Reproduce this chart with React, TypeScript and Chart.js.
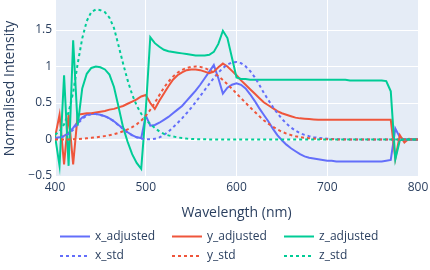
import React, { useEffect, useRef } from "react";
import { Chart, registerables } from "chart.js";

Chart.register(...registerables);

const wavelengths = [
  400, 405, 410, 415, 420, 425, 430, 435, 440, 445,
  450, 455, 460, 465, 470, 475, 480, 485, 490, 495,
  500, 505, 510, 515, 520, 525, 530, 535, 540, 545,
  550, 555, 560, 565, 570, 575, 580, 585, 590, 595,
  600, 605, 610, 615, 620, 625, 630, 635, 640, 645,
  650, 655, 660, 665, 670, 675, 680, 685, 690, 695,
  700, 705, 710, 715, 720, 725, 730, 735, 740, 745,
  750, 755, 760, 765, 770, 775, 780, 785, 790, 795,
  800,
];

const xAdjusted = [
  0.02, 0.03, 0.05, 0.09, 0.16, 0.24, 0.3, 0.34, 0.35, 0.35,
  0.34, 0.32, 0.29, 0.25, 0.2, 0.15, 0.1, 0.06, 0.03, 0.02,
  0.33, 0.19, 0.2, 0.23, 0.27, 0.31, 0.36, 0.41, 0.46, 0.53,
  0.6, 0.67, 0.75, 0.84, 0.93, 1.02, 0.84, 0.63, 0.71, 0.75,
  0.77, 0.75, 0.7, 0.62, 0.53, 0.43, 0.34, 0.25, 0.15, 0.06,
  -0.01, -0.07, -0.12, -0.16, -0.2, -0.23, -0.25, -0.26, -0.27, -0.28,
  -0.29, -0.29, -0.3, -0.3, -0.3, -0.3, -0.3, -0.3, -0.3, -0.3,
  -0.3, -0.3, -0.3, -0.29, -0.28, 0.15, 0.03, 0.0, 0.0, 0.0,
  0.0,
];

const yAdjusted = [
  0.03, 0.34, -0.34, 0.34, -0.34, 0.34, 0.35, 0.36, 0.36, 0.37,
  0.38, 0.39, 0.41, 0.42, 0.44, 0.46, 0.49, 0.52, 0.55, 0.59,
  0.61, 0.5, 0.42, 0.53, 0.63, 0.73, 0.82, 0.88, 0.92, 0.95,
  0.96, 0.96, 0.95, 0.93, 0.91, 0.93, 0.99, 1.04, 1.0, 0.94,
  0.88, 0.81, 0.75, 0.69, 0.63, 0.57, 0.51, 0.47, 0.43, 0.39,
  0.36, 0.34, 0.32, 0.3, 0.29, 0.285, 0.28, 0.275, 0.27, 0.27,
  0.27, 0.27, 0.27, 0.27, 0.27, 0.27, 0.27, 0.27, 0.27, 0.27,
  0.27, 0.27, 0.27, 0.27, 0.27, -0.26, 0.06, -0.04, 0.01, 0.0,
  0.0,
];

const zAdjusted = [
  0.05, -0.36, 0.88, -0.36, 1.36, 0.19, 0.7, 0.9, 0.98, 1.0,
  0.99, 0.96, 0.89, 0.72, 0.45, 0.17, -0.03, -0.2, -0.32, -0.4,
  0.4, 1.4, 1.32, 1.27, 1.23, 1.21, 1.2, 1.19, 1.18, 1.17,
  1.16, 1.15, 1.15, 1.15, 1.16, 1.2, 1.31, 1.49, 1.39, 1.12,
  0.85, 0.83, 0.83, 0.82, 0.82, 0.82, 0.82, 0.82, 0.82, 0.82,
  0.82, 0.82, 0.82, 0.82, 0.82, 0.82, 0.82, 0.82, 0.82, 0.82,
  0.82, 0.82, 0.82, 0.82, 0.82, 0.81, 0.81, 0.81, 0.81, 0.81,
  0.81, 0.81, 0.81, 0.8, 0.66, -0.27, -0.01, 0.0, 0.0, 0.0,
  0.0,
];

const xStd = [
  0.0143, 0.0232, 0.0435, 0.0776, 0.1344, 0.2148, 0.2839, 0.3285, 0.3483, 0.3481,
  0.3362, 0.3187, 0.2908, 0.2511, 0.1954, 0.1421, 0.0956, 0.058, 0.032, 0.0147,
  0.0049, 0.0024, 0.0093, 0.0291, 0.0633, 0.1096, 0.1655, 0.2257, 0.2904, 0.3597,
  0.4334, 0.5121, 0.5945, 0.6784, 0.7621, 0.8425, 0.9163, 0.9786, 1.0263, 1.0567,
  1.0622, 1.0456, 1.0026, 0.9384, 0.8544, 0.7514, 0.6424, 0.5419, 0.4479, 0.3608,
  0.2835, 0.2187, 0.1649, 0.1212, 0.0874, 0.0636, 0.0468, 0.0329, 0.0227, 0.0158,
  0.0114, 0.0081, 0.0058, 0.0041, 0.0029, 0.002, 0.0014, 0.001, 0.0007, 0.0005,
  0.0003, 0.0002, 0.0002, 0.0001, 0.0001, 0.0001, 0.0, 0.0, 0.0, 0.0,
  0.0,
];

const yStd = [
  0.0004, 0.0006, 0.0012, 0.0022, 0.004, 0.0073, 0.0116, 0.0168, 0.023, 0.0298,
  0.038, 0.048, 0.06, 0.0739, 0.091, 0.1126, 0.139, 0.1693, 0.208, 0.2586,
  0.323, 0.4073, 0.503, 0.6082, 0.71, 0.7932, 0.862, 0.9149, 0.954, 0.9803,
  0.995, 1.0, 0.995, 0.9786, 0.952, 0.9154, 0.87, 0.8163, 0.757, 0.6949,
  0.631, 0.5668, 0.503, 0.4412, 0.381, 0.321, 0.265, 0.217, 0.175, 0.1382,
  0.107, 0.0816, 0.061, 0.0446, 0.032, 0.0232, 0.017, 0.0119, 0.0082, 0.0057,
  0.0041, 0.0029, 0.0021, 0.0015, 0.001, 0.0007, 0.0005, 0.0004, 0.0002, 0.0002,
  0.0001, 0.0001, 0.0001, 0.0, 0.0, 0.0, 0.0, 0.0, 0.0, 0.0,
  0.0,
];

const zStd = [
  0.0679, 0.1102, 0.2074, 0.3713, 0.6456, 1.0391, 1.3856, 1.623, 1.7471, 1.7826,
  1.7721, 1.7441, 1.6692, 1.5281, 1.2876, 1.0419, 0.813, 0.6162, 0.4652, 0.3533,
  0.272, 0.2123, 0.1582, 0.1117, 0.0782, 0.0573, 0.0422, 0.0298, 0.0203, 0.0134,
  0.0087, 0.0057, 0.0039, 0.0028, 0.0021, 0.0018, 0.0017, 0.0014, 0.0011, 0.001,
  0.0008, 0.0006, 0.0003, 0.0002, 0.0002, 0.0001, 0.0, 0.0, 0.0, 0.0,
  0.0, 0.0, 0.0, 0.0, 0.0, 0.0, 0.0, 0.0, 0.0, 0.0,
  0.0, 0.0, 0.0, 0.0, 0.0, 0.0, 0.0, 0.0, 0.0, 0.0,
  0.0, 0.0, 0.0, 0.0, 0.0, 0.0, 0.0, 0.0, 0.0, 0.0,
  0.0,
];

const xTickValues = [400, 500, 600, 700, 800];
const yTickValues = [-0.5, 0, 0.5, 1, 1.5];

const seriesNames = ["x_adjusted", "y_adjusted", "z_adjusted", "x_std", "y_std", "z_std"];
const seriesValues = [xAdjusted, yAdjusted, zAdjusted, xStd, yStd, zStd];
const seriesColors = ["#636efa", "#EF553B", "#00cc96", "#636efa", "#EF553B", "#00cc96"];
const seriesDashed = [false, false, false, true, true, true];

const TEXT_COLOR = "#2a3f5f";
const FONT = '"Open Sans", "Noto Sans", sans-serif';

const plotBgPlugin = {
  id: "plotBg",
  beforeDraw(chart: any) {
    const { ctx, chartArea } = chart;
    if (!chartArea) return;
    ctx.save();
    ctx.fillStyle = "#E5ECF6";
    ctx.fillRect(chartArea.left, chartArea.top, chartArea.right - chartArea.left, chartArea.bottom - chartArea.top);
    ctx.restore();
  },
};

const legendPlugin = {
  id: "gridLegend",
  afterDraw(chart: any) {
    const ctx = chart.ctx;
    const colX = [60, 172, 284];
    const rowY = [236.5, 256];
    ctx.save();
    chart.data.datasets.forEach((ds: any, i: number) => {
      const cx = colX[i % 3];
      const cy = rowY[Math.floor(i / 3)];
      ctx.beginPath();
      ctx.strokeStyle = ds.borderColor;
      ctx.lineWidth = 2;
      ctx.setLineDash(ds.borderDash || []);
      ctx.moveTo(cx, cy);
      ctx.lineTo(cx + 30, cy);
      ctx.stroke();
      ctx.setLineDash([]);
      ctx.fillStyle = TEXT_COLOR;
      ctx.font = `12px ${FONT}`;
      ctx.textBaseline = "middle";
      ctx.textAlign = "left";
      ctx.fillText(ds.label, cx + 35, cy);
    });
    ctx.restore();
  },
};

export default function App() {
  const canvasRef = useRef<HTMLCanvasElement | null>(null);

  useEffect(() => {
    const canvas = canvasRef.current;
    if (!canvas) return;
    const datasets = seriesNames.map((name, i) => ({
      label: name,
      data: wavelengths.map((w, j) => ({ x: w, y: seriesValues[i][j] })),
      borderColor: seriesColors[i],
      backgroundColor: seriesColors[i],
      borderWidth: 2,
      borderDash: seriesDashed[i] ? [3, 3] : [],
      pointRadius: 0,
      tension: 0,
      fill: false,
      order: seriesNames.length - i,
    }));

    const chart = new Chart(canvas, {
      type: "line",
      data: { datasets },
      plugins: [plotBgPlugin, legendPlugin],
      options: {
        animation: false,
        responsive: false,
        devicePixelRatio: 1,
        layout: { padding: { left: 0, right: 12, top: 0, bottom: 48 } },
        plugins: {
          legend: { display: false },
          tooltip: { enabled: false },
        },
        font: { family: FONT },
        scales: {
          x: {
            type: "linear",
            min: 400,
            max: 800,
            afterBuildTicks: (s: any) => {
              s.ticks = xTickValues.map((v) => ({ value: v }));
            },
            afterFit: (s: any) => {
              s.height = 45;
              s.paddingLeft = 0;
              s.paddingRight = 0;
            },
            grid: { color: "#ffffff", lineWidth: 1, drawTicks: false },
            border: { display: false },
            ticks: {
              color: TEXT_COLOR,
              font: { size: 12, family: FONT },
              padding: 3,
              maxRotation: 0,
              autoSkip: false,
              callback: (v: any) => String(v),
            },
            title: {
              display: true,
              text: "Wavelength (nm)",
              color: TEXT_COLOR,
              font: { size: 14, family: FONT },
              padding: { top: 0, bottom: 0.6 },
            },
          },
          y: {
            type: "linear",
            min: -0.513,
            max: 1.911,
            afterBuildTicks: (s: any) => {
              s.ticks = yTickValues.map((v) => ({ value: v }));
            },
            afterFit: (s: any) => {
              s.width = 55;
              s.paddingTop = 0;
              s.paddingBottom = 0;
            },
            grid: {
              color: "#ffffff",
              lineWidth: (c: any) => (c.tick && c.tick.value === 0 ? 2 : 1),
              drawTicks: false,
            },
            border: { display: false },
            ticks: {
              color: TEXT_COLOR,
              font: { size: 12, family: FONT },
              padding: 3,
              autoSkip: false,
              callback: (v: any) => (v < 0 ? "\u2212" + String(Math.abs(v)) : String(v)),
            },
            title: {
              display: true,
              text: "Normalised Intensity",
              color: TEXT_COLOR,
              font: { size: 14, family: FONT },
              padding: { top: 2, bottom: 0 },
            },
          },
        },
      } as any,
    });
    return () => chart.destroy();
  }, []);

  return (
    <div style={{ position: "absolute", left: 0, top: 0, width: 430, height: 270, background: "#ffffff" }}>
      <canvas ref={canvasRef} width={430} height={270} style={{ display: "block", width: 430, height: 270 }} />
    </div>
  );
}
